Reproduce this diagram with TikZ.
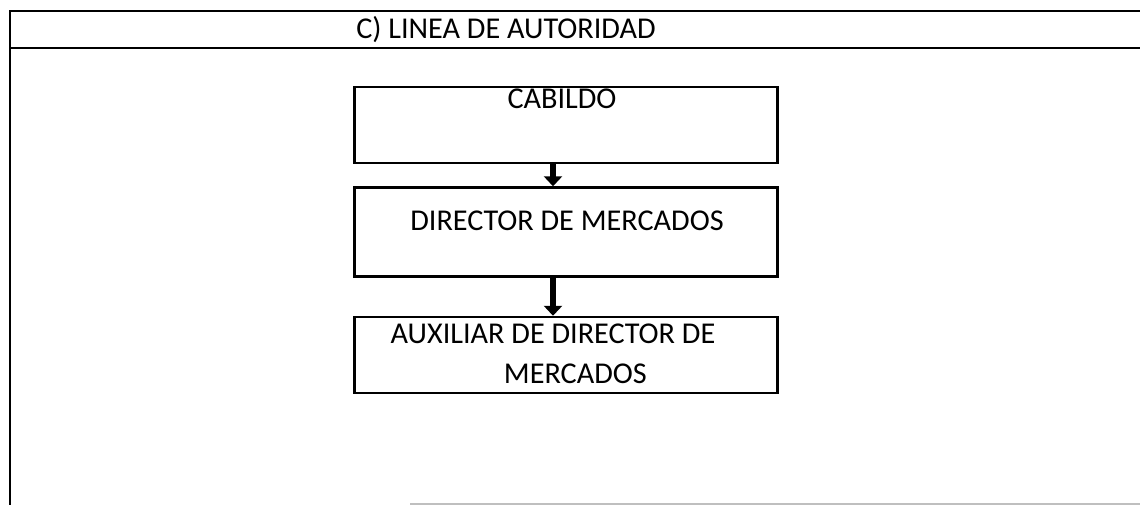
\documentclass[tikz,border=0pt]{standalone}
\usepackage{fontspec}
\setmainfont{Carlito}
\usetikzlibrary{arrows.meta}

\begin{document}
\begin{tikzpicture}[x=0.02cm,y=-0.02cm]
		\tikzset{cargo/.style = {draw, line width=1.4pt, minimum width=8.46cm, inner sep=0pt},
			txt/.style = {font=\fontsize{17.2}{22.5}\selectfont, inner sep=0pt, anchor=base},
			flecha/.style = {line width=0.13cm, -{Triangle[width=0.36cm,length=0.2cm]}}}
		\useasboundingbox (0,0) rectangle (1140,505);
		% marco
		\draw[line width=1.1pt] (1140,11) -- (10,11) -- (10,505);
		\draw[line width=1.6pt] (10,48) -- (1140,48);
		\draw[gray!50, line width=0.8pt] (410,504) -- (1140,504);
		\node[txt] (titulo) at (506,38) {C) LINEA DE AUTORIDAD};
		% cajas
		\node[cargo, minimum height=1.52cm] (a) at (566,125) {};
		\node[cargo, minimum height=1.78cm] (b) at (566,232) {};
		\node[cargo, minimum height=1.52cm] (c) at (566,355) {};
		\node[txt] (ta) at (562,108) {CABILDO};
		\node[txt] (tb) at (567,230) {DIRECTOR DE MERCADOS};
		% base = ultima linea
		\node[txt, align=left] (tc) at (553,383) {AUXILIAR DE DIRECTOR DE\\\hspace*{3.75em}MERCADOS};
		% flechas
		\draw[flecha] ([xshift=-0.26cm]a.south) -- ([xshift=-0.26cm]b.north);
		\draw[flecha] ([xshift=-0.26cm]b.south) -- ([xshift=-0.26cm]c.north);
\end{tikzpicture}
\end{document}
